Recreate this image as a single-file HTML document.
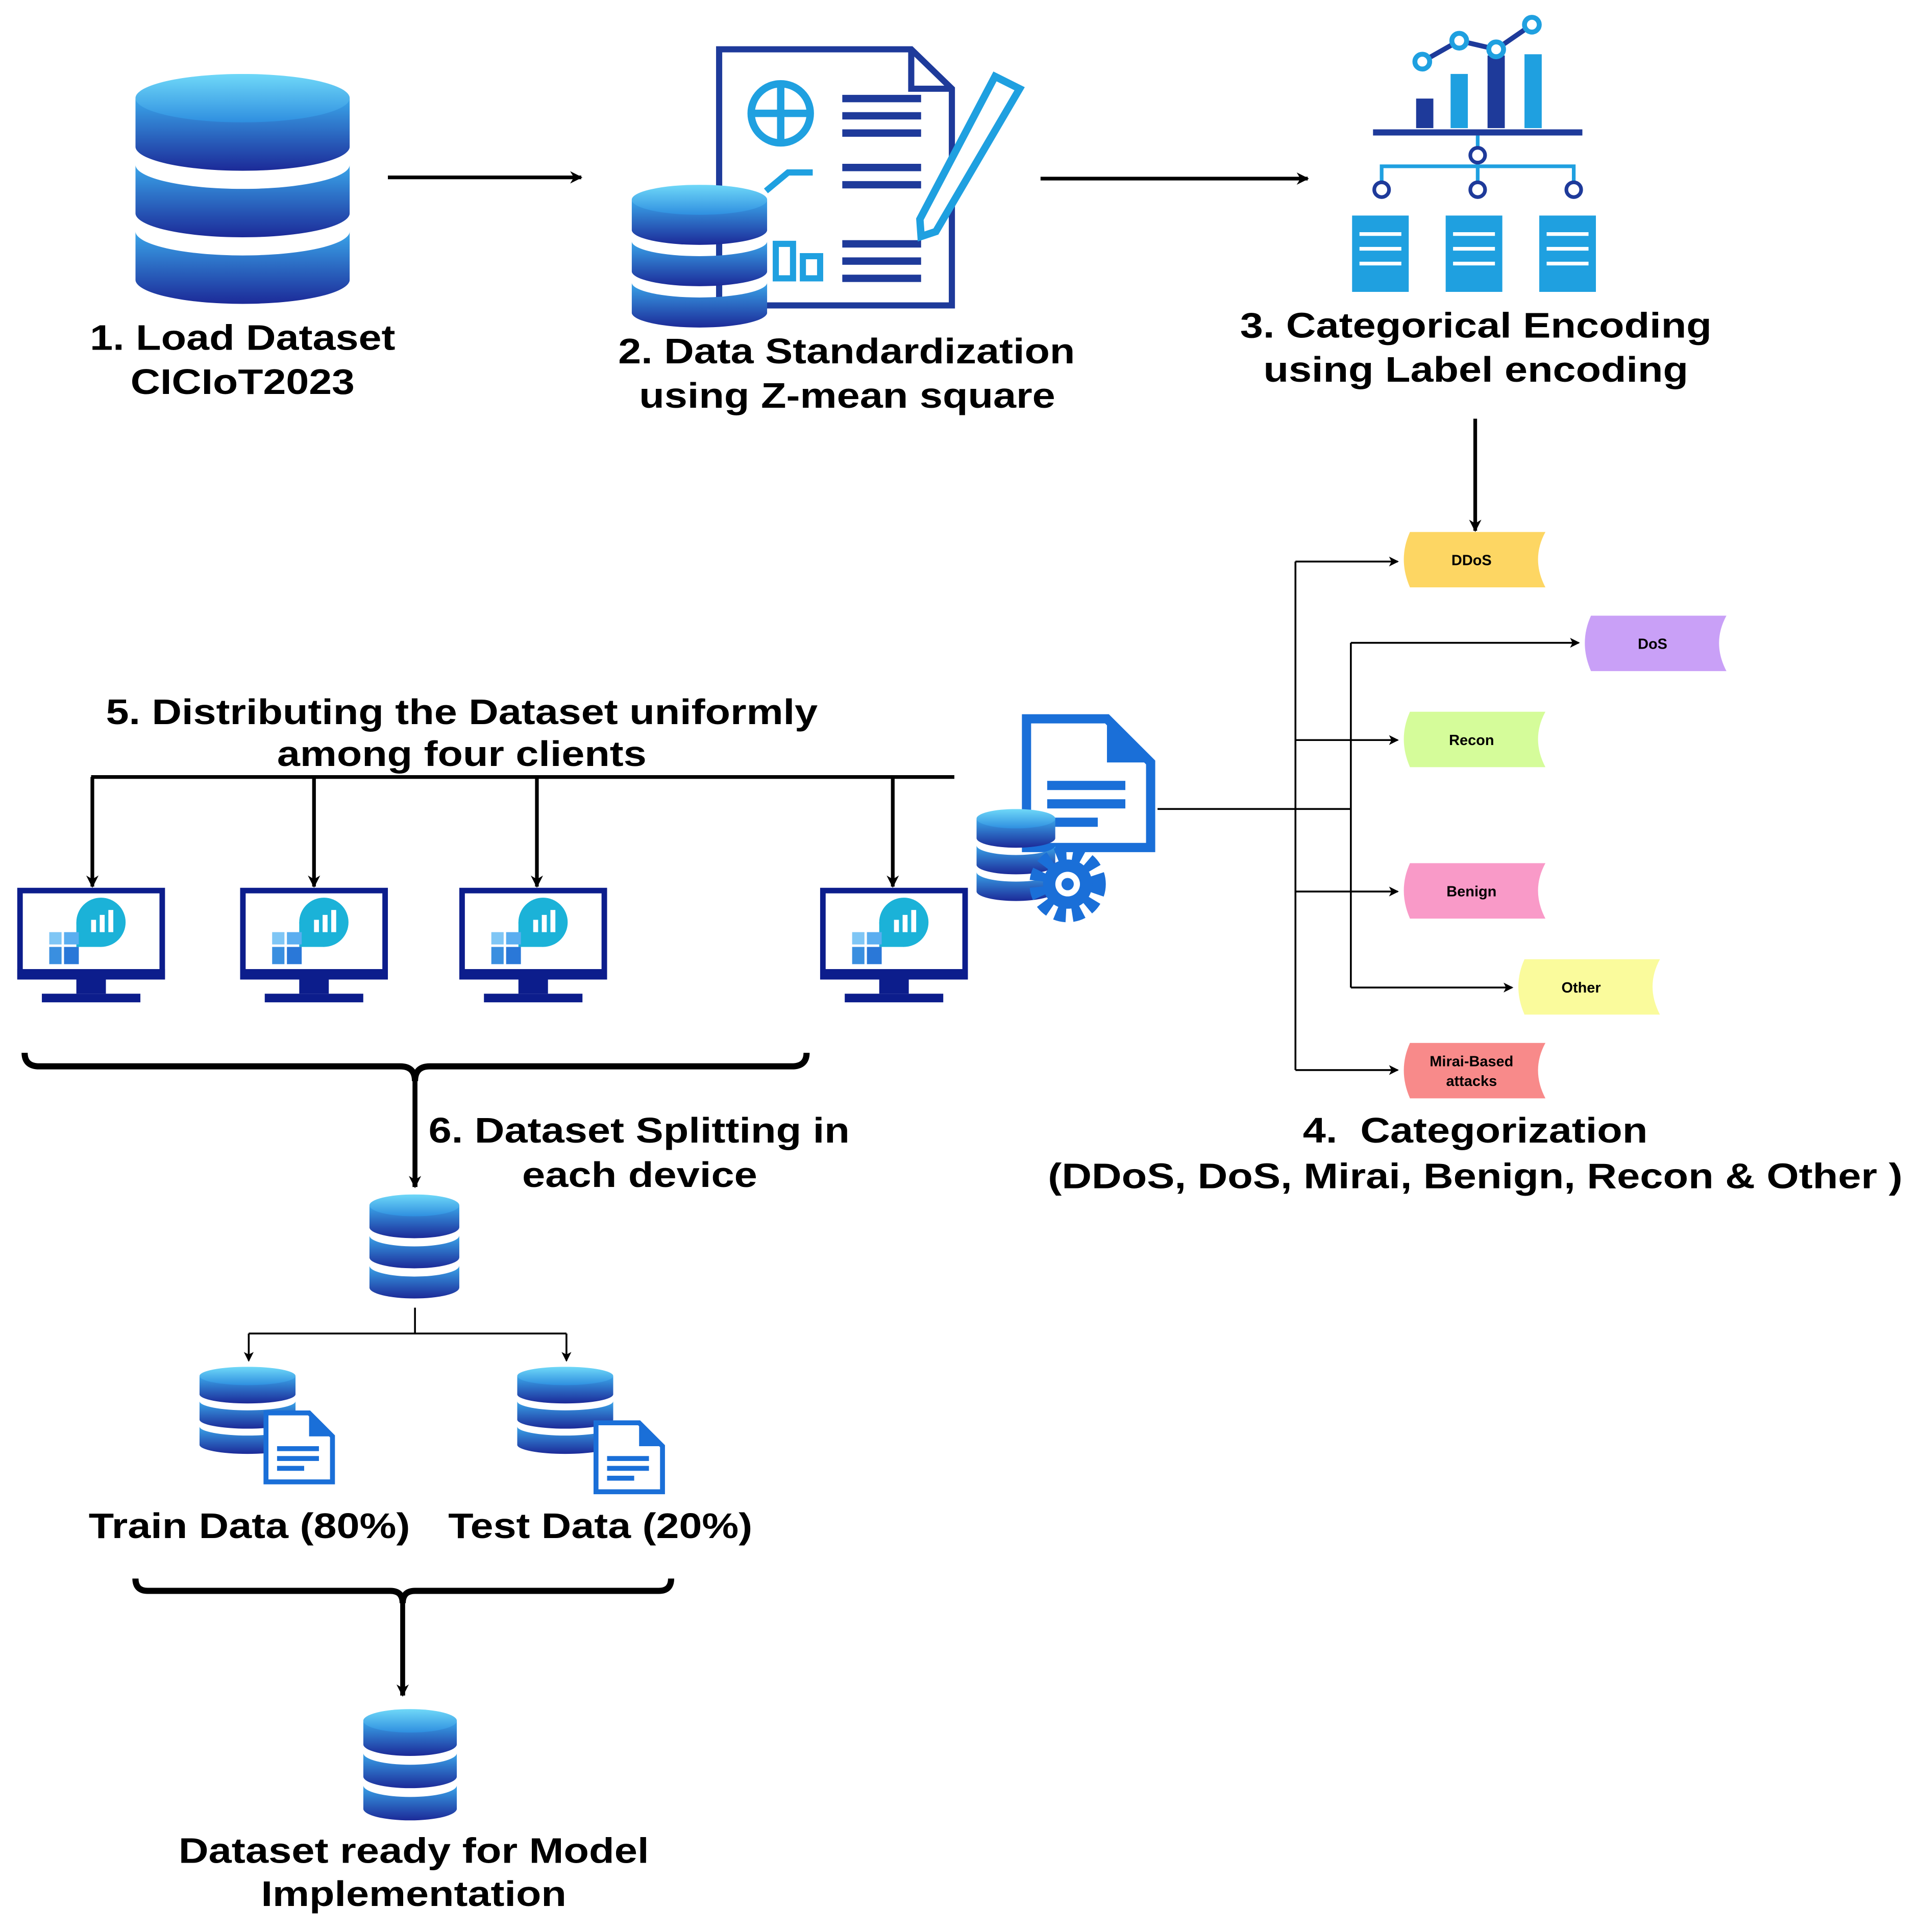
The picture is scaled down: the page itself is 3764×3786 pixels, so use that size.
<!DOCTYPE html>
<html><head><meta charset="utf-8"><style>
html,body{margin:0;padding:0;background:#fff}
svg{display:block}
text{font-family:"Liberation Sans",Arial,sans-serif;font-weight:bold;fill:#000}
</style></head><body>
<svg width="3764" height="3786" viewBox="0 0 1560 1569" xmlns="http://www.w3.org/2000/svg">
<defs>
<linearGradient id="band" x1="0" y1="0" x2="0" y2="1">
<stop offset="0" stop-color="#3aa6ea"/><stop offset="1" stop-color="#1c2a98"/></linearGradient>
<linearGradient id="top" x1="0" y1="0" x2="0" y2="1">
<stop offset="0" stop-color="#6fd8f8"/><stop offset="1" stop-color="#2f8fe0"/></linearGradient>
<marker id="ah" markerWidth="10" markerHeight="10" refX="9" refY="5" orient="auto" markerUnits="userSpaceOnUse" viewBox="0 0 10 10">
<path d="M0,0 L10,5 L0,10 L3,5z" fill="#000"/></marker>
<marker id="ahs" markerWidth="8" markerHeight="8" refX="7" refY="4" orient="auto" markerUnits="userSpaceOnUse" viewBox="0 0 8 8">
<path d="M0,0 L8,4 L0,8 L2,4z" fill="#000"/></marker>
<symbol id="db" viewBox="0 0 100 116" preserveAspectRatio="none">
<path d="M0,12 L0,36 A50,12 0 0 0 100,36 L100,12 Z" fill="url(#band)"/>
<path d="M0,45 L0,69 A50,12 0 0 0 100,69 L100,45 A50,12 0 0 1 0,45 Z" fill="url(#band)"/>
<path d="M0,78 L0,102 A50,12 0 0 0 100,102 L100,78 A50,12 0 0 1 0,78 Z" fill="url(#band)"/>
<ellipse cx="50" cy="12" rx="50" ry="12" fill="url(#top)"/>
</symbol>
<symbol id="mon" viewBox="0 0 120 94">
<rect x="2" y="2" width="116" height="70" fill="#fff" stroke="#0c1d8c" stroke-width="5"/>
<rect x="0" y="66" width="120" height="8" fill="#0c1d8c"/>
<rect x="48" y="74" width="24" height="12" fill="#0c1d8c"/>
<rect x="20" y="86" width="80" height="7" fill="#0c1d8c"/>
<circle cx="68" cy="28" r="20" fill="#1bb2d8"/>
<rect x="48" y="28" width="20" height="20" fill="#1bb2d8"/>
<rect x="60" y="26" width="4" height="10" fill="#fff"/><rect x="67" y="22" width="4" height="14" fill="#fff"/><rect x="74" y="18" width="4" height="18" fill="#fff"/>
<rect x="26" y="36" width="10" height="10" fill="#7fc6f5"/>
<rect x="26" y="48" width="10" height="14" fill="#3a8fe0"/><rect x="38" y="48" width="12" height="14" fill="#2a78d8"/>
<rect x="38" y="36" width="12" height="10" fill="#5aaef0"/>
</symbol>
<symbol id="doc" viewBox="0 0 60 62">
<path d="M3,3 H38 L57,22 V59 H3 Z" fill="#fff" stroke="#1a6fd8" stroke-width="4"/>
<path d="M38,3 V22 H57 Z" fill="#1a6fd8"/>
<rect x="12" y="30" width="34" height="4" fill="#1a6fd8"/><rect x="12" y="38" width="34" height="4" fill="#1a6fd8"/><rect x="12" y="46" width="22" height="4" fill="#1a6fd8"/>
</symbol>
</defs>

<!-- 1 -->
<use href="#db" x="110" y="60" width="174" height="190"/>
<text x="73" y="284" font-size="29" textLength="248" lengthAdjust="spacingAndGlyphs">1. Load Dataset</text>
<text x="106" y="320" font-size="29" textLength="182" lengthAdjust="spacingAndGlyphs">CICIoT2023</text>
<line x1="315" y1="144" x2="472" y2="144" stroke="#000" stroke-width="3" marker-end="url(#ah)"/>

<!-- 2 -->
<path d="M584,40 H740 L773,72 V248 H584 Z" fill="#fff" stroke="#1e3a9a" stroke-width="5"/>
<path d="M740,40 V72 H773" fill="none" stroke="#1e3a9a" stroke-width="5"/>
<circle cx="634" cy="92" r="24" fill="none" stroke="#1fa0e0" stroke-width="6"/>
<line x1="610" y1="92" x2="658" y2="92" stroke="#1fa0e0" stroke-width="6"/><line x1="634" y1="68" x2="634" y2="116" stroke="#1fa0e0" stroke-width="6"/>
<g stroke="#1e3a9a" stroke-width="6"><line x1="684" y1="80" x2="748" y2="80"/><line x1="684" y1="94" x2="748" y2="94"/><line x1="684" y1="108" x2="748" y2="108"/><line x1="684" y1="136" x2="748" y2="136"/><line x1="684" y1="150" x2="748" y2="150"/><line x1="684" y1="198" x2="748" y2="198"/><line x1="684" y1="212" x2="748" y2="212"/><line x1="684" y1="226" x2="748" y2="226"/></g>
<path d="M622,155 L640,140 L660,140" fill="none" stroke="#1fa0e0" stroke-width="5"/>
<rect x="630" y="198" width="14" height="28" fill="none" stroke="#1fa0e0" stroke-width="5"/><rect x="652" y="208" width="14" height="18" fill="none" stroke="#1fa0e0" stroke-width="5"/>
<path d="M808,62 L828,72 L760,188 L748,192 L747,178 Z" fill="#fff" stroke="#1fa0e0" stroke-width="6"/>
<use href="#db" x="513" y="150" width="110" height="118"/>
<text x="502" y="295" font-size="29" textLength="371" lengthAdjust="spacingAndGlyphs">2. Data Standardization</text>
<text x="519" y="331" font-size="29" textLength="338" lengthAdjust="spacingAndGlyphs">using Z-mean square</text>
<line x1="845" y1="145" x2="1062" y2="145" stroke="#000" stroke-width="3" marker-end="url(#ah)"/>

<!-- 3 -->
<rect x="1150" y="80" width="14" height="24" fill="#1e3a9a"/><rect x="1178" y="60" width="14" height="44" fill="#1fa0e0"/><rect x="1208" y="45" width="14" height="59" fill="#1e3a9a"/><rect x="1238" y="44" width="14" height="60" fill="#1fa0e0"/>
<polyline points="1155,50 1185,33 1215,40 1244,20" fill="none" stroke="#1e3a9a" stroke-width="4"/>
<g fill="#fff" stroke="#1fa0e0" stroke-width="4"><circle cx="1155" cy="50" r="6"/><circle cx="1185" cy="33" r="6"/><circle cx="1215" cy="40" r="6"/><circle cx="1244" cy="20" r="6"/></g>
<rect x="1115" y="105" width="170" height="5" fill="#1e3a9a"/>
<g stroke="#1fa0e0" stroke-width="3" fill="none"><line x1="1200" y1="110" x2="1200" y2="120"/><line x1="1200" y1="132" x2="1200" y2="148"/><polyline points="1122,148 1122,135 1278,135 1278,148"/></g>
<g fill="#fff" stroke="#1e3a9a" stroke-width="3"><circle cx="1200" cy="126" r="6"/><circle cx="1122" cy="154" r="6"/><circle cx="1200" cy="154" r="6"/><circle cx="1278" cy="154" r="6"/></g>
<g><rect x="1098" y="175" width="46" height="62" fill="#1fa0e0"/><rect x="1174" y="175" width="46" height="62" fill="#1fa0e0"/><rect x="1250" y="175" width="46" height="62" fill="#1fa0e0"/></g>
<g stroke="#fff" stroke-width="3"><line x1="1104" y1="190" x2="1138" y2="190"/><line x1="1104" y1="202" x2="1138" y2="202"/><line x1="1104" y1="214" x2="1138" y2="214"/><line x1="1180" y1="190" x2="1214" y2="190"/><line x1="1180" y1="202" x2="1214" y2="202"/><line x1="1180" y1="214" x2="1214" y2="214"/><line x1="1256" y1="190" x2="1290" y2="190"/><line x1="1256" y1="202" x2="1290" y2="202"/><line x1="1256" y1="214" x2="1290" y2="214"/></g>
<text x="1007" y="274" font-size="29" textLength="383" lengthAdjust="spacingAndGlyphs">3. Categorical Encoding</text>
<text x="1026" y="310" font-size="29" textLength="345" lengthAdjust="spacingAndGlyphs">using Label encoding</text>
<line x1="1198" y1="340" x2="1198" y2="431" stroke="#000" stroke-width="3" marker-end="url(#ah)"/>

<!-- 4 tags -->
<g font-size="12" text-anchor="middle">
<path d="M1145,432 H1255 Q1243,454 1255,477 H1145 Q1135,454 1145,432Z" fill="#fdd663"/><text x="1195" y="459" font-size="12">DDoS</text>
<path d="M1292,500 H1402 Q1390,522 1402,545 H1292 Q1282,522 1292,500Z" fill="#c9a0f7"/><text x="1342" y="527" font-size="12">DoS</text>
<path d="M1145,578 H1255 Q1243,600 1255,623 H1145 Q1135,600 1145,578Z" fill="#d5fc9a"/><text x="1195" y="605" font-size="12">Recon</text>
<path d="M1145,701 H1255 Q1243,723 1255,746 H1145 Q1135,723 1145,701Z" fill="#f99ac8"/><text x="1195" y="728" font-size="12">Benign</text>
<path d="M1238,779 H1348 Q1336,801 1348,824 H1238 Q1228,801 1238,779Z" fill="#fafb9c"/><text x="1284" y="806" font-size="12">Other</text>
<path d="M1145,847 H1255 Q1243,869 1255,892 H1145 Q1135,869 1145,847Z" fill="#f88a8a"/><text x="1195" y="866" font-size="12">Mirai-Based</text><text x="1195" y="882" font-size="12">attacks</text>
</g>
<g stroke="#000" stroke-width="1.5" fill="none">
<line x1="940" y1="657" x2="1097" y2="657"/>
<line x1="1052" y1="456" x2="1052" y2="869"/>
<line x1="1097" y1="522" x2="1097" y2="802"/>
<line x1="1052" y1="456" x2="1135" y2="456" marker-end="url(#ahs)"/>
<line x1="1052" y1="601" x2="1135" y2="601" marker-end="url(#ahs)"/>
<line x1="1052" y1="724" x2="1135" y2="724" marker-end="url(#ahs)"/>
<line x1="1052" y1="869" x2="1135" y2="869" marker-end="url(#ahs)"/>
<line x1="1097" y1="522" x2="1282" y2="522" marker-end="url(#ahs)"/>
<line x1="1097" y1="802" x2="1228" y2="802" marker-end="url(#ahs)"/>
</g>
<text x="1058" y="928" font-size="29" textLength="280" lengthAdjust="spacingAndGlyphs" xml:space="preserve">4.  Categorization</text>
<text x="851" y="965" font-size="29" textLength="694" lengthAdjust="spacingAndGlyphs">(DDoS, DoS, Mirai, Benign, Recon &amp; Other )</text>

<!-- doc gear -->
<use href="#doc" x="828" y="578" width="112" height="116"/>
<use href="#db" x="793" y="657" width="64" height="76"/>
<circle cx="867" cy="718" r="24" fill="none" stroke="#1a6fd8" stroke-width="14" stroke-dasharray="8 5"/>
<circle cx="867" cy="718" r="20" fill="#1a6fd8"/><circle cx="867" cy="718" r="10" fill="#fff"/><circle cx="867" cy="718" r="5" fill="#1a6fd8"/>

<!-- 5 -->
<text x="86" y="588" font-size="29" textLength="578" lengthAdjust="spacingAndGlyphs">5. Distributing the Dataset uniformly</text>
<text x="225" y="622" font-size="29" textLength="300" lengthAdjust="spacingAndGlyphs">among four clients</text>
<g stroke="#000" stroke-width="3">
<line x1="74" y1="631" x2="775" y2="631"/>
<line x1="75" y1="631" x2="75" y2="720" marker-end="url(#ah)"/>
<line x1="255" y1="631" x2="255" y2="720" marker-end="url(#ah)"/>
<line x1="436" y1="631" x2="436" y2="720" marker-end="url(#ah)"/>
<line x1="725" y1="631" x2="725" y2="720" marker-end="url(#ah)"/>
</g>
<use href="#mon" x="14" y="721" width="120" height="94"/>
<use href="#mon" x="195" y="721" width="120" height="94"/>
<use href="#mon" x="373" y="721" width="120" height="94"/>
<use href="#mon" x="666" y="721" width="120" height="94"/>

<!-- 6 -->
<path d="M20,855 Q20,866 32,866 H325 Q337,866 337,878 Q337,866 349,866 H643 Q655,866 655,855" fill="none" stroke="#000" stroke-width="5"/>
<line x1="337" y1="876" x2="337" y2="964" stroke="#000" stroke-width="4" marker-end="url(#ah)"/>
<text x="348" y="928" font-size="29" textLength="342" lengthAdjust="spacingAndGlyphs">6. Dataset Splitting in</text>
<text x="424" y="964" font-size="29" textLength="191" lengthAdjust="spacingAndGlyphs">each device</text>
<use href="#db" x="300" y="970" width="73" height="86"/>
<g stroke="#000" stroke-width="1.5" fill="none">
<line x1="337" y1="1062" x2="337" y2="1083"/>
<line x1="202" y1="1083" x2="460" y2="1083"/>
<line x1="202" y1="1083" x2="202" y2="1105" marker-end="url(#ahs)"/>
<line x1="460" y1="1083" x2="460" y2="1105" marker-end="url(#ahs)"/>
</g>
<use href="#db" x="162" y="1110" width="78" height="72"/>
<use href="#doc" x="213" y="1144" width="60" height="63"/>
<use href="#db" x="420" y="1110" width="78" height="72"/>
<use href="#doc" x="481" y="1152" width="60" height="63"/>
<text x="72" y="1249" font-size="29" textLength="261" lengthAdjust="spacingAndGlyphs">Train Data (80%)</text>
<text x="364" y="1249" font-size="29" textLength="247" lengthAdjust="spacingAndGlyphs">Test Data (20%)</text>
<path d="M110,1282 Q110,1292 120,1292 H317 Q327,1292 327,1302 Q327,1292 337,1292 H535 Q545,1292 545,1282" fill="none" stroke="#000" stroke-width="5"/>
<line x1="327" y1="1300" x2="327" y2="1377" stroke="#000" stroke-width="4" marker-end="url(#ah)"/>
<use href="#db" x="295" y="1388" width="76" height="92"/>
<text x="145" y="1513" font-size="29" textLength="382" lengthAdjust="spacingAndGlyphs">Dataset ready for Model</text>
<text x="212" y="1548" font-size="29" textLength="248" lengthAdjust="spacingAndGlyphs">Implementation</text>
</svg>
</body></html>
